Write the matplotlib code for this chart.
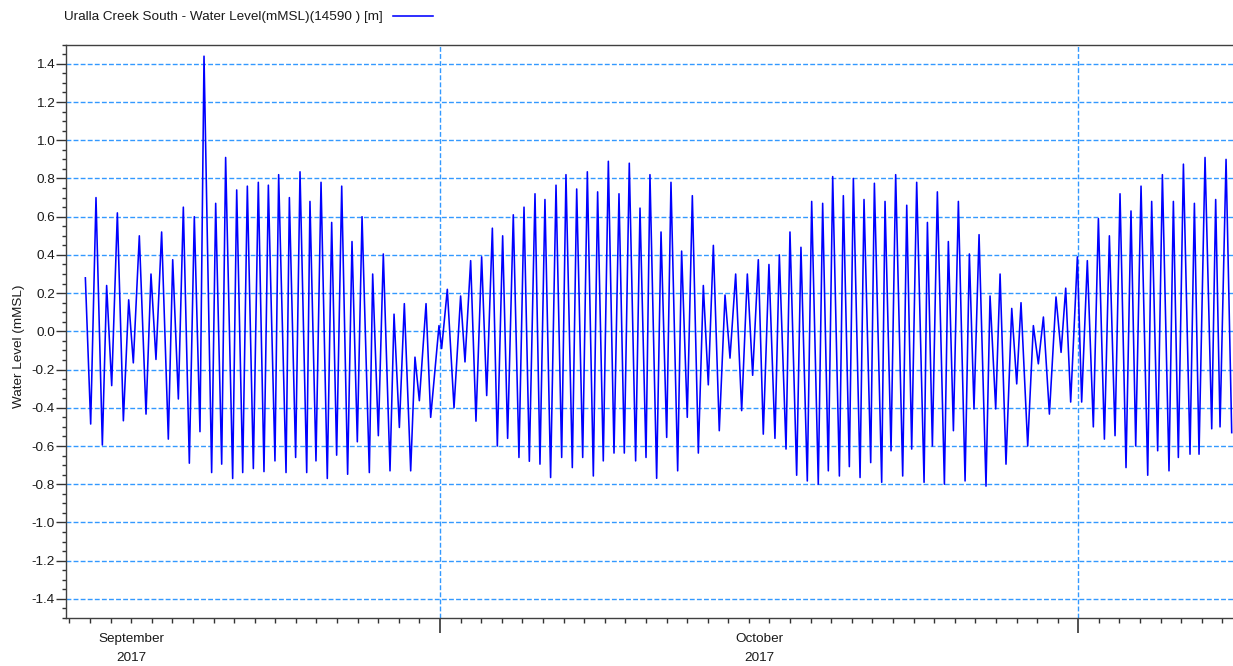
import pandas as pd
import matplotlib
matplotlib.use("Agg")
import matplotlib.pyplot as plt
import matplotlib.dates as mdates
import matplotlib.ticker as mticker
from matplotlib.transforms import blended_transform_factory

plt.rcParams['font.family'] = ['Liberation Sans', 'DejaVu Sans']
plt.rcParams['axes.unicode_minus'] = False

# ---------------------------------------------------------------- data
series_start = "2017-09-13 00:00"

# hours after series_start of each successive high / low water
hours = [
    18.6, 24.8, 31.0, 38.4, 43.4, 49.3, 55.9, 62.9, 69.1, 74.5,
    81.5, 89.3, 95.1, 100.9, 107.5, 115.3, 120.4, 127.0, 132.8, 139.8,
    145.6, 152.2, 156.9, 165.8, 170.5, 177.5, 182.1, 190.3, 195.0, 202.0,
    207.4, 214.4, 220.2, 226.8, 231.9, 239.6, 243.9, 252.5, 256.4, 263.7,
    268.8, 276.6, 280.4, 287.4, 293.3, 300.6, 305.7, 311.5, 317.4, 324.3,
    329.4, 335.6, 341.1, 349.6, 353.5, 360.1, 365.9, 373.7, 378.4, 384.6,
    390.4, 397.8, 402.8, 407.9, 415.7, 421.1, 430.8, 433.9, 440.5,
    448.3, 456.0, 461.1, 467.7, 473.9, 480.5, 486.4, 493.0, 498.8, 505.0,
    510.8, 517.4, 524.0, 529.9, 536.1, 542.7, 548.5, 554.3, 560.9, 567.2,
    573.8, 578.8, 586.2, 591.3, 598.3, 603.7, 610.7, 615.7, 622.3, 628.2,
    634.8, 640.6, 646.8, 652.6, 660.0, 665.1, 672.1, 676.7, 684.5, 689.6,
    696.2, 701.2, 709.0, 713.6, 720.2, 726.1, 733.1, 738.9, 744.7, 750.6,
    757.5, 764.2, 770.0, 776.6, 783.6, 790.2, 796.4, 803.0, 808.8, 815.4,
    822.4, 827.5, 835.3, 839.9, 847.7, 852.7, 860.1, 865.2, 872.9, 878.0, 884.6,
    889.7, 897.5, 902.1, 909.1, 913.8, 921.6, 926.2, 934.0, 938.3, 946.8,
    950.7, 957.7, 963.1, 971.3, 976.0, 981.8, 987.6, 996.2, 1000.1, 1005.9,
    1011.7, 1019.9, 1024.5, 1030.4, 1036.2, 1044.0, 1049.0, 1054.4, 1060.3, 1068.4,
    1073.1, 1079.7, 1084.8, 1091.7, 1098.4, 1104.2, 1109.2, 1117.0, 1123.6, 1129.4,
    1135.3, 1142.3, 1150.0, 1155.9, 1161.3, 1167.1, 1174.9, 1179.9, 1186.5, 1193.5,
    1199.4, 1206.4, 1212.2, 1218.8, 1224.6, 1231.6, 1237.4, 1242.9, 1249.1, 1256.9,
    1261.5, 1268.5, 1274.0, 1281.7, 1286.8, 1292.6, 1298.5, 1306.2, 1311.3, 1316.7,
    1323.7, 1331.5, 1336.1, 1341.2, 1348.2, 1354.8,
]

# water level (m MSL) at those times
level = [
    0.28, -0.485, 0.70, -0.595, 0.24, -0.284, 0.62, -0.468, 0.165, -0.165,
    0.50, -0.433, 0.30, -0.147, 0.52, -0.564, 0.375, -0.354, 0.65, -0.69,
    0.60, -0.525, 1.44, -0.739, 0.67, -0.695, 0.91, -0.77, 0.74, -0.739,
    0.76, -0.718, 0.78, -0.734, 0.765, -0.678, 0.82, -0.739, 0.70, -0.66,
    0.835, -0.739, 0.68, -0.678, 0.78, -0.77, 0.57, -0.648, 0.76, -0.748,
    0.47, -0.578, 0.60, -0.739, 0.30, -0.546, 0.405, -0.73, 0.09, -0.503,
    0.145, -0.73, -0.135, -0.363, 0.145, -0.45, 0.03, -0.09, 0.22,
    -0.40, 0.185, -0.16, 0.37, -0.47, 0.39, -0.336, 0.54, -0.60, 0.50,
    -0.56, 0.61, -0.66, 0.65, -0.68, 0.72, -0.695, 0.69, -0.765, 0.765,
    -0.66, 0.82, -0.713, 0.745, -0.66, 0.835, -0.757, 0.73, -0.678, 0.89,
    -0.637, 0.72, -0.637, 0.88, -0.678, 0.645, -0.66, 0.82, -0.769, 0.52,
    -0.555, 0.78, -0.73, 0.42, -0.45, 0.71, -0.637, 0.24, -0.28, 0.45,
    -0.52, 0.19, -0.14, 0.30, -0.415, 0.30, -0.23, 0.375, -0.538, 0.35,
    -0.56, 0.40, -0.616, 0.52, -0.753, 0.44, -0.783, 0.68, -0.80, 0.67, -0.73,
    0.81, -0.757, 0.71, -0.708, 0.80, -0.765, 0.69, -0.687, 0.775, -0.79,
    0.68, -0.625, 0.82, -0.757, 0.66, -0.616, 0.78, -0.79, 0.57, -0.60,
    0.73, -0.80, 0.47, -0.52, 0.68, -0.783, 0.405, -0.406, 0.506, -0.81,
    0.185, -0.406, 0.30, -0.695, 0.12, -0.275, 0.15, -0.60, 0.03, -0.17,
    0.075, -0.433, 0.18, -0.11, 0.226, -0.37, 0.39, -0.37, 0.37, -0.50,
    0.59, -0.564, 0.50, -0.546, 0.72, -0.713, 0.63, -0.60, 0.76, -0.753,
    0.68, -0.625, 0.82, -0.73, 0.68, -0.66, 0.875, -0.643, 0.67, -0.643,
    0.91, -0.51, 0.69, -0.50, 0.90, -0.53,
]

station_label = "Uralla Creek South - Water Level(mMSL)(14590 ) [m]"
y_title = "Water Level (mMSL)"
month_starts = ["2017-09-01", "2017-10-01", "2017-11-01"]
month_names = ["September\n2017", "October\n2017"]
view_start = "2017-09-12 20:02"
view_end = "2017-11-08 12:18"

# ---------------------------------------------------------------- figure
W, H = 1233, 666
fig = plt.figure(figsize=(W / 100, H / 100), dpi=100)
ax_l, ax_r, ax_t, ax_b = 66, 1233, 44.7, 618
ax = fig.add_axes([ax_l / W, 1 - ax_b / H, (ax_r - ax_l) / W, (ax_b - ax_t) / H])

times = pd.Timestamp(series_start) + pd.to_timedelta(hours, unit="h")
line, = ax.plot(times, level, color="#0000ff", linewidth=1.15, zorder=3)

ax.set_xlim(pd.Timestamp(view_start), pd.Timestamp(view_end))
ax.set_ylim(-1.5, 1.5)

# y axis
ax.yaxis.set_major_locator(mticker.MultipleLocator(0.2))
ax.yaxis.set_minor_locator(mticker.MultipleLocator(0.05))
ax.yaxis.set_major_formatter(mticker.FormatStrFormatter("%.1f"))
ax.tick_params(axis="y", which="major", length=7, width=1.0, pad=1,
               labelsize=9.7, colors="#333333", labelcolor="#1a1a1a")
ax.tick_params(axis="y", which="minor", length=3, width=1.0, colors="#333333")

# x axis: daily minor ticks, month boundaries as major ticks
ax.xaxis.set_major_locator(mdates.MonthLocator())
ax.xaxis.set_minor_locator(mdates.DayLocator())
ax.xaxis.set_major_formatter(mticker.NullFormatter())
ax.tick_params(axis="x", which="major", length=11, width=1.2, colors="#333333")
ax.tick_params(axis="x", which="minor", length=3.6, width=1.0, colors="#333333")

# month names centred within each month
trans = blended_transform_factory(ax.transData, ax.transAxes)
starts = pd.to_datetime(month_starts)
for name, a, b in zip(month_names, starts[:-1], starts[1:]):
    mid = a + (b - a) / 2
    ax.text(mid, -0.027, name, transform=trans, ha="center", va="top",
            fontsize=9.7, color="#1a1a1a", linespacing=1.75, clip_on=False)

ax.grid(which="major", axis="both", color="#3399ff",
        linestyle=(0, (3.5, 1.6)), linewidth=1.0, zorder=1)
ax.set_axisbelow(True)

for side in ("left", "bottom", "top"):
    ax.spines[side].set_color("#404040")
    ax.spines[side].set_linewidth(1.0)
ax.spines["right"].set_visible(False)

ax.set_ylabel(y_title, fontsize=9.7, color="#1a1a1a")
ax.yaxis.set_label_coords((25 - ax_l) / (ax_r - ax_l), 1 - (346 - ax_t) / (ax_b - ax_t))

leg = ax.legend([line], [station_label], loc="center left",
                bbox_to_anchor=(64 / W, 1 - 17 / H), bbox_transform=fig.transFigure,
                frameon=False, markerfirst=False, handlelength=3.0,
                handletextpad=0.75, borderpad=0, borderaxespad=0, fontsize=9.7)
for txt in leg.get_texts():
    txt.set_color("#1a1a1a")

fig.savefig("out.png", dpi=100)
